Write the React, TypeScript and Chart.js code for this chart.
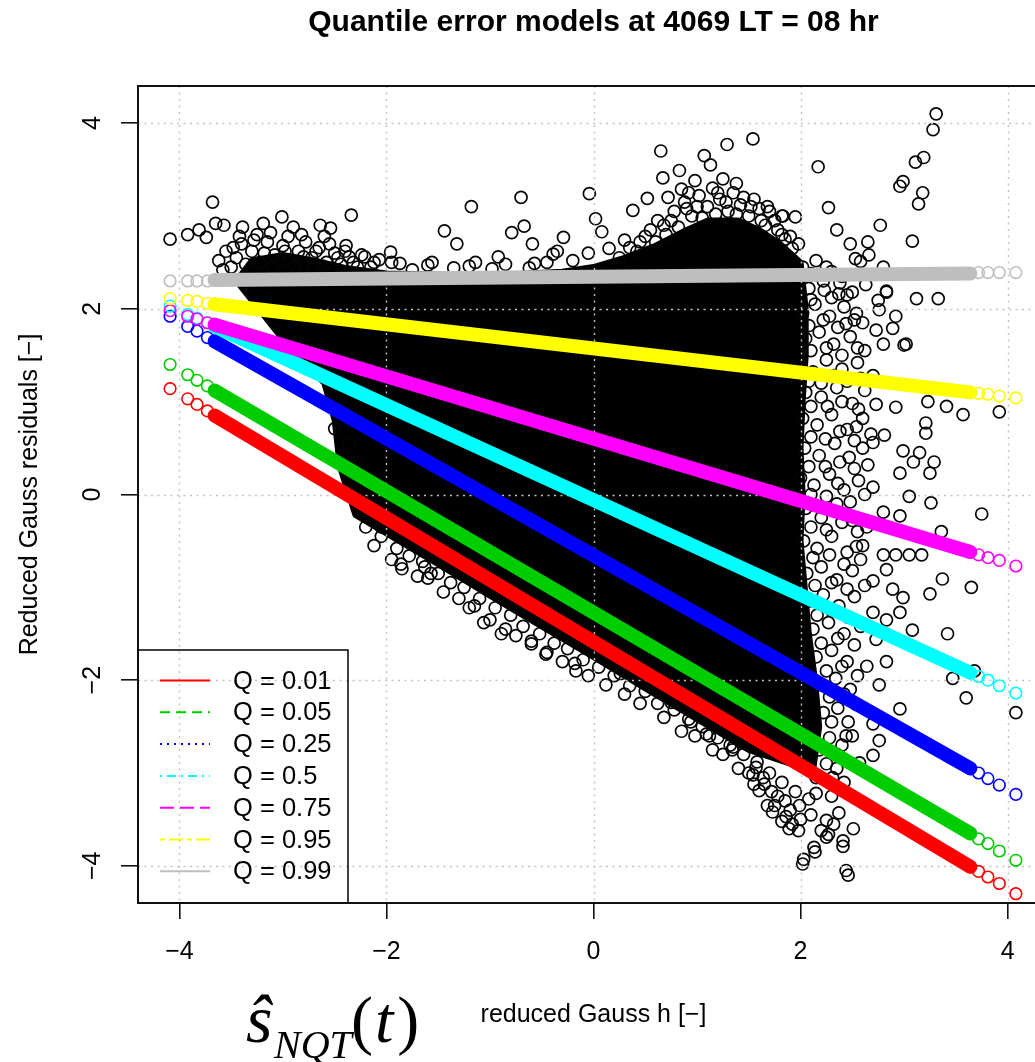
import React, { useEffect, useRef } from 'react';
import { Chart, registerables } from 'chart.js';

Chart.register(...registerables);

// ---------------- data ----------------
const xTicks = [-4, -2, 0, 2, 4];
const yTicks = [-4, -2, 0, 2, 4];
const titleText = 'Quantile error models at 4069 LT = 08 hr';
const xTitle = 'reduced Gauss h [\u2212]';
const yTitle = 'Reduced Gauss residuals [\u2212]';

const quantileLabels = ['Q = 0.01', 'Q = 0.05', 'Q = 0.25', 'Q = 0.5', 'Q = 0.75', 'Q = 0.95', 'Q = 0.99'];
// x positions of the fitted quantile points (sparse tails; the middle is a dense band)
const quantileX = [-4.09, -3.92, -3.83, -3.73, -3.66, 3.64, 3.72, 3.81, 3.92, 4.08];
const q001 = [1.14, 1.03, 0.97, 0.9, 0.85, -4.01, -4.06, -4.12, -4.19, -4.3];
const q005 = [1.4, 1.29, 1.23, 1.17, 1.12, -3.65, -3.71, -3.76, -3.84, -3.94];
const q025 = [1.92, 1.81, 1.76, 1.69, 1.65, -2.95, -3.0, -3.06, -3.13, -3.23];
const q050 = [2.03, 1.94, 1.9, 1.85, 1.81, -1.92, -1.96, -2.0, -2.06, -2.14];
const q075 = [1.98, 1.92, 1.89, 1.85, 1.83, -0.62, -0.65, -0.68, -0.71, -0.77];
const q095 = [2.11, 2.09, 2.08, 2.06, 2.05, 1.1, 1.09, 1.08, 1.06, 1.04];
const q099 = [2.3, 2.3, 2.3, 2.3, 2.31, 2.38, 2.39, 2.39, 2.39, 2.39];
const quantileValues = [q001, q005, q025, q050, q075, q095, q099];

// outline of the saturated (solid black) part of the residual cloud
const cloudOutline: [number, number][] = [
  [-3.45, 2.3], [-3.3, 2.52], [-3.0, 2.58], [-2.7, 2.52], [-2.4, 2.44], [-2.0, 2.38], [-1.0, 2.36],
  [-0.3, 2.4], [0.0, 2.45], [0.3, 2.55], [0.6, 2.68], [0.9, 2.85], [1.1, 2.95], [1.4, 2.95],
  [1.6, 2.85], [1.8, 2.7], [2.0, 2.5], [2.05, 2.0], [2.05, 1.5], [2.02, 1.0], [2.0, 0.5],
  [2.02, 0.0], [2.0, -0.5], [2.04, -1.0], [2.08, -1.5], [2.14, -2.0], [2.18, -2.5], [2.12, -2.98],
  [1.5, -2.75], [1.0, -2.42], [0.5, -2.09], [0.0, -1.75], [-0.5, -1.42], [-1.0, -1.09],
  [-1.5, -0.75], [-2.0, -0.42], [-2.3, -0.22], [-2.45, 0.3], [-2.5, 0.8], [-2.6, 1.2],
  [-2.95, 1.6], [-3.2, 1.95], [-3.45, 2.3],
];

// individually visible residual points (reduced Gauss h, residual)
const cloudPoints: [number, number][] = [
  // upper left / upper middle
  [-4.09, 2.75], [-3.68, 3.15], [-3.92, 2.8], [-3.81, 2.85], [-3.74, 2.77], [-3.65, 2.92], [-3.57, 2.9],
  [-3.39, 2.88], [-3.19, 2.92], [-3.01, 2.99], [-2.9, 2.88], [-2.64, 2.9], [-2.54, 2.87], [-2.34, 3.01],
  [-2.39, 2.68], [-2.21, 2.56], [-2.07, 2.53], [-1.96, 2.61], [-1.87, 2.49], [-1.44, 2.84], [-1.32, 2.7],
  [-1.56, 2.5], [-1.18, 3.1], [-1.14, 2.5], [-0.92, 2.56], [-0.79, 2.82], [-0.67, 2.89], [-0.7, 3.2],
  [-0.59, 2.7], [-0.57, 2.49], [-0.39, 2.59], [-0.29, 2.77], [-0.04, 3.24], [0.02, 2.97], [0.08, 2.83],
  [0.3, 2.74], [0.38, 3.06], [0.52, 3.19], [0.65, 3.7], [0.67, 3.41], [0.83, 3.49], [0.85, 3.29],
  [1.07, 3.65], [1.13, 3.55], [1.29, 3.77], [1.54, 3.83], [1.68, 3.1], [1.38, 3.35], [1.82, 3.0],
  [1.95, 2.99], [2.17, 3.53], [1.83, 3.0],
  [-3.55, 2.62], [-3.45, 2.55], [-3.4, 2.7], [-3.3, 2.62], [-3.22, 2.5], [-3.15, 2.72], [-3.08, 2.58],
  [-3.0, 2.68], [-2.93, 2.5], [-2.85, 2.62], [-2.78, 2.72], [-2.72, 2.55], [-2.65, 2.66], [-2.58, 2.5],
  [-2.5, 2.6], [-2.44, 2.48], [-2.36, 2.56], [-2.28, 2.45], [-3.5, 2.45], [-3.1, 2.45], [-2.7, 2.43],
  [-3.62, 2.52], [-2.95, 2.78], [-3.25, 2.8], [-2.6, 2.78],
  [-3.58, 2.42], [-3.48, 2.66], [-3.36, 2.48], [-3.28, 2.74], [-3.18, 2.6], [-3.04, 2.5], [-2.98, 2.62],
  [-2.88, 2.46], [-2.8, 2.56], [-2.68, 2.62], [-2.62, 2.46], [-2.55, 2.7], [-2.47, 2.55], [-2.4, 2.62],
  [-2.32, 2.5], [-2.24, 2.58], [-2.12, 2.5], [-3.42, 2.78], [-3.12, 2.82], [-2.82, 2.8],
  [-2.15, 2.45], [-1.95, 2.5], [-1.75, 2.42], [-1.6, 2.47], [-1.35, 2.44], [-1.2, 2.46], [-0.98, 2.43],
  [-0.85, 2.48], [-0.62, 2.44], [-0.45, 2.5], [-0.2, 2.52], [-0.05, 2.6], [0.15, 2.65], [0.25, 2.55],
  [-0.35, 2.62],
  [0.45, 2.72], [0.55, 2.85], [0.62, 2.95], [0.7, 2.8], [0.78, 3.05], [0.88, 3.15], [0.95, 3.0],
  [1.02, 3.22], [1.1, 3.1], [1.15, 3.3], [1.22, 3.18], [1.3, 3.05], [1.35, 3.25], [1.42, 3.12],
  [1.5, 3.0], [1.55, 3.18], [1.62, 2.95], [1.7, 3.05], [1.78, 2.85], [1.85, 2.75], [1.92, 2.65],
  [0.98, 3.38], [1.25, 3.4], [0.72, 3.2],
  [0.42, 2.62], [0.5, 2.78], [0.6, 2.72], [0.68, 2.9], [0.75, 2.95], [0.82, 2.88], [0.9, 3.08],
  [1.0, 3.1], [1.05, 2.98], [1.18, 3.02], [1.28, 3.15], [1.38, 3.02], [1.45, 3.2], [1.52, 3.1],
  [1.6, 3.08], [1.66, 2.9], [1.75, 2.95], [1.82, 2.8], [1.9, 2.78], [1.98, 2.7], [0.35, 2.66],
  [1.2, 3.25], [0.92, 3.25],
  // upper right
  [3.31, 4.1], [3.28, 3.93], [3.11, 3.58], [3.19, 3.63], [2.96, 3.32], [2.99, 3.37], [3.18, 3.25],
  [3.14, 3.13], [2.27, 3.09], [2.35, 2.85], [2.48, 2.7], [2.65, 2.72], [2.77, 2.9], [3.08, 2.73],
  [2.53, 2.54], [2.58, 2.51], [2.66, 2.58], [2.8, 2.45], [2.63, 2.26], [3.12, 2.11], [3.33, 2.11],
  [2.37, 2.16], [2.23, 2.2], [2.83, 2.19], [2.75, 2.09], [2.92, 1.92], [2.76, 1.99], [2.54, 1.95],
  [2.44, 1.84], [2.89, 1.79], [3.0, 1.61], [2.73, 1.77], [2.83, 2.18], [3.02, 1.62],
  // right side
  [3.23, 1.0], [3.41, 0.95], [3.57, 0.86], [3.92, 0.89], [3.21, 0.77], [3.21, 0.66], [3.29, 0.35],
  [3.25, 0.23], [3.26, -0.09], [3.75, -0.21], [3.36, -0.4], [2.8, -0.65], [2.92, -0.65], [3.05, -0.65],
  [3.17, -0.65], [3.37, -0.91], [3.65, -1.0], [3.25, -1.07], [3.42, -1.5], [3.68, -1.9], [3.47, -1.98],
  [3.6, -2.19], [4.08, -2.35], [2.99, -1.11], [3.08, -1.46], [2.96, -2.31], [2.76, -2.65], [2.7, -2.81],
  [2.73, 0.97], [2.92, 0.94], [2.54, 0.73], [2.81, 0.64], [2.7, 0.56], [2.99, 0.47], [3.15, 0.45],
  [3.09, 0.35], [2.96, 0.23], [3.05, -0.02], [2.96, -0.23], [2.8, -0.19], [2.64, -0.35], [2.54, -0.56],
  [2.83, -0.81], [2.7, -0.93], [2.89, -1.02], [2.96, -1.27], [2.83, -1.35], [2.7, -1.27], [2.73, -1.56],
  [2.83, -1.8], [2.64, -1.85], [2.76, -2.05], [2.54, -2.26], [2.7, -2.47], [2.44, -2.6], [2.57, -2.89],
  [2.31, -3.05], [2.15, -3.22], [1.99, -3.35], [1.86, -3.47], [2.37, -3.43], [2.25, -3.51],
  [2.02, 2.45], [2.15, 2.52], [2.3, 2.4], [2.08, 2.22], [2.22, 2.3], [2.38, 2.28], [2.5, 2.18],
  [2.02, 1.95], [2.14, 2.05], [2.28, 1.92], [2.42, 2.02], [2.6, 1.85], [2.05, 1.68], [2.18, 1.75],
  [2.32, 1.62], [2.48, 1.7], [2.62, 1.55], [2.8, 1.62], [2.0, 1.4], [2.12, 1.32], [2.25, 1.45],
  [2.4, 1.35], [2.55, 1.42], [2.7, 1.28], [2.05, 1.1], [2.2, 1.05], [2.35, 1.15], [2.5, 0.98],
  [2.62, 1.12], [2.02, 0.82], [2.16, 0.75], [2.3, 0.86], [2.45, 0.7], [2.6, 0.82], [2.04, 0.5],
  [2.18, 0.42], [2.33, 0.55], [2.47, 0.4], [2.6, 0.5], [2.0, 0.18], [2.13, 0.1], [2.28, 0.22],
  [2.42, 0.05], [2.56, 0.15], [2.7, 0.08], [2.05, -0.15], [2.2, -0.25], [2.35, -0.1], [2.5, -0.28],
  [2.03, -0.5], [2.16, -0.58], [2.3, -0.45], [2.45, -0.62], [2.6, -0.55], [2.06, -0.85], [2.2, -0.78],
  [2.35, -0.92], [2.5, -0.82], [2.08, -1.15], [2.22, -1.08], [2.37, -1.2], [2.52, -1.1], [2.12, -1.45],
  [2.27, -1.38], [2.42, -1.5], [2.58, -1.42], [2.15, -1.75], [2.3, -1.68], [2.45, -1.8], [2.2, -2.05],
  [2.34, -1.98], [2.48, -2.1], [2.22, -2.35], [2.36, -2.3], [2.28, -2.62], [2.4, -2.7], [2.25, -2.9],
  [2.35, -2.95],
  [2.1, 2.38], [2.25, 2.45], [2.4, 2.35], [2.1, 2.1], [2.3, 2.12], [2.45, 2.15], [2.08, 1.82],
  [2.22, 1.88], [2.36, 1.8], [2.52, 1.88], [2.1, 1.55], [2.25, 1.58], [2.4, 1.5], [2.55, 1.58],
  [2.08, 1.22], [2.2, 1.2], [2.32, 1.28], [2.45, 1.22], [2.58, 1.25], [2.1, 0.95], [2.26, 0.95],
  [2.4, 1.0], [2.56, 0.92], [2.1, 0.62], [2.24, 0.6], [2.38, 0.68], [2.52, 0.58], [2.68, 0.65],
  [2.08, 0.3], [2.24, 0.3], [2.38, 0.35], [2.52, 0.28], [2.65, 0.32], [2.1, 0.0], [2.25, -0.02],
  [2.36, 0.12], [2.48, -0.08], [2.62, 0.0], [2.1, -0.35], [2.25, -0.38], [2.4, -0.3], [2.55, -0.4],
  [2.12, -0.68], [2.28, -0.65], [2.42, -0.75], [2.58, -0.7], [2.14, -0.98], [2.3, -0.95], [2.45, -1.02],
  [2.62, -0.98], [2.16, -1.3], [2.3, -1.25], [2.46, -1.32], [2.2, -1.6], [2.36, -1.55], [2.52, -1.62],
  [2.25, -1.9], [2.4, -1.85], [2.55, -1.95], [2.28, -2.18], [2.42, -2.15], [2.3, -2.45], [2.46, -2.45],
  [2.35, -2.8], [2.5, -2.6], [2.18, -2.75], [2.15, -3.05], [2.42, -3.1], [2.3, -3.25],
  // lower edge
  [-2.5, 0.71], [-2.36, 0.55], [-2.29, 0.35], [-2.05, -0.35], [-1.86, -0.75], [-1.63, -0.78],
  [-1.57, -0.85], [-1.15, -1.2], [-1.06, -1.38], [-0.89, -1.5], [-0.6, -1.61], [-0.46, -1.72],
  [-0.17, -1.9], [-0.18, -1.82], [0.26, -1.93], [0.61, -2.11], [0.75, -2.24], [0.94, -2.45],
  [1.09, -2.58], [1.35, -2.72], [1.57, -2.94], [1.75, -3.35], [1.92, -3.55], [2.03, -3.93],
  [2.13, -3.8], [2.27, -3.66], [2.41, -3.73], [2.44, -4.05], [1.64, -3.05], [1.12, -2.6], [1.34, -2.75],
  [1.54, -3.02], [1.6, -3.19], [2.51, -3.6], [2.46, -4.1], [2.41, -3.79], [2.14, -3.85], [2.02, -3.98],
  [2.25, -3.69], [1.89, -3.6], [1.73, -3.42],
  [-2.2, -0.35], [-2.05, -0.45], [-1.9, -0.58], [-1.78, -0.66], [-1.65, -0.72], [-1.5, -0.85],
  [-1.38, -0.95], [-1.25, -1.0], [-1.1, -1.12], [-0.95, -1.22], [-0.8, -1.3], [-0.68, -1.42],
  [-0.52, -1.5], [-0.38, -1.6], [-0.25, -1.66], [-0.1, -1.78], [0.05, -1.86], [0.2, -1.95],
  [0.35, -2.06], [0.5, -2.12], [0.62, -2.25], [0.78, -2.32], [0.92, -2.42], [1.05, -2.5], [1.2, -2.62],
  [1.32, -2.7], [1.45, -2.8], [1.58, -2.88], [1.7, -3.0], [1.82, -3.1], [1.95, -3.2], [2.08, -3.28],
  [-1.95, -0.7], [-1.6, -0.9], [-1.3, -1.12], [-0.85, -1.45], [-0.45, -1.7], [0.3, -2.15],
  [0.85, -2.55], [1.25, -2.8], [1.5, -3.0], [1.65, -3.12], [1.78, -3.25], [1.9, -3.4], [2.0, -3.5],
  [-2.12, -0.55], [-1.85, -0.8], [-1.7, -0.88], [-1.45, -1.05], [-1.2, -1.22], [-1.0, -1.35],
  [-0.75, -1.52], [-0.6, -1.58], [-0.3, -1.8], [-0.05, -1.95], [0.12, -2.05], [0.45, -2.25],
  [0.68, -2.4], [0.98, -2.6], [1.15, -2.75], [1.4, -2.95], [1.55, -3.12], [1.72, -3.2], [1.85, -3.3],
  [1.98, -3.62], [2.1, -3.45], [2.2, -3.62], [2.32, -3.55], [1.82, -3.52], [1.68, -3.35],
];

// ---------------- styles ----------------
const quantileColors = ['#FF0000', '#00CD00', '#0000FF', '#00FFFF', '#FF00FF', '#FFFF00', '#BEBEBE'];
const legendDash: number[][] = [[], [10, 6], [2, 5], [2, 5, 9, 5], [14, 6], [5, 4, 14, 4], []];
const SANS = '"Liberation Sans", Arial, Helvetica, sans-serif';
const SERIF = '"Liberation Serif", "Times New Roman", serif';
const CANVAS_W = 1100;
const CANVAS_H = 1062;

const fmt = (v: number) => (v < 0 ? '\u2212' + Math.abs(v) : String(v));

const decorPlugin = {
  id: 'decor',
  afterDatasetDraw(chart: any, args: any) {
    if (args.index !== 1) return;
    const { ctx, chartArea: a, scales } = chart;
    ctx.save();
    ctx.strokeStyle = '#C4C4C4';
    ctx.lineWidth = 1.4;
    ctx.setLineDash([2, 4.5]);
    xTicks.forEach((v) => {
      const p = Math.round(scales.x.getPixelForValue(v)) + 0.5;
      ctx.beginPath();
      ctx.moveTo(p, a.top);
      ctx.lineTo(p, a.bottom);
      ctx.stroke();
    });
    yTicks.forEach((v) => {
      const p = Math.round(scales.y.getPixelForValue(v)) + 0.5;
      ctx.beginPath();
      ctx.moveTo(a.left, p);
      ctx.lineTo(a.right, p);
      ctx.stroke();
    });
    ctx.restore();
  },
  afterDatasetsDraw(chart: any) {
    const { ctx, chartArea: a } = chart;
    ctx.save();
    ctx.strokeStyle = '#111';
    ctx.lineWidth = 2;
    ctx.strokeRect(a.left, a.top, a.right - a.left, a.bottom - a.top);
    ctx.restore();
  },
  afterDraw(chart: any) {
    const { ctx, chartArea: a } = chart;
    const cx = (a.left + a.right) / 2;
    const cy = (a.top + a.bottom) / 2;
    ctx.save();
    ctx.fillStyle = '#000';
    // title
    ctx.font = 'bold 30px ' + SANS;
    ctx.textAlign = 'center';
    ctx.textBaseline = 'middle';
    ctx.fillText(titleText, cx, 23);
    // x title
    ctx.font = '25px ' + SANS;
    ctx.fillText(xTitle, cx, 1015);
    // y title
    ctx.save();
    ctx.translate(30, cy);
    ctx.rotate(-Math.PI / 2);
    ctx.fillText(yTitle, 0, 0);
    ctx.restore();

    // legend
    const lx = a.left;
    const ly = 650;
    ctx.strokeStyle = '#111';
    ctx.lineWidth = 1.6;
    ctx.strokeRect(lx, ly, 210, a.bottom - ly);
    ctx.textAlign = 'left';
    ctx.font = '25.5px ' + SANS;
    quantileLabels.forEach((lab, i) => {
      const y = 680.5 + i * 31.8;
      ctx.save();
      ctx.strokeStyle = quantileColors[i];
      ctx.lineWidth = 2;
      ctx.setLineDash(legendDash[i]);
      ctx.beginPath();
      ctx.moveTo(lx + 22, y);
      ctx.lineTo(lx + 72, y);
      ctx.stroke();
      ctx.restore();
      ctx.fillStyle = '#000';
      ctx.fillText(lab, lx + 95, y + 1);
    });

    // formula  s^_NQT(t)
    ctx.textBaseline = 'alphabetic';
    ctx.textAlign = 'left';
    ctx.font = 'italic 68px ' + SERIF;
    ctx.fillText('\u015D', 246, 1042);
    ctx.font = 'italic 40px ' + SERIF;
    ctx.fillText('NQT', 274, 1058);
    ctx.font = '66px ' + SERIF;
    ctx.fillText('(', 351, 1042);
    const wp = ctx.measureText('(').width;
    ctx.font = 'italic 66px ' + SERIF;
    ctx.fillText('t', 351 + wp + 2, 1042);
    const wt = ctx.measureText('t').width;
    ctx.font = '66px ' + SERIF;
    ctx.fillText(')', 351 + wp + wt + 6, 1042);
    ctx.restore();
  },
};

export default function App() {
  const canvasRef = useRef<HTMLCanvasElement | null>(null);

  useEffect(() => {
    const canvas = canvasRef.current;
    if (!canvas) return;

    const datasets: any[] = [];
    datasets.push({
      type: 'line',
      label: 'cloud',
      data: cloudOutline.map(([x, y]) => ({ x, y })),
      fill: 'shape',
      backgroundColor: '#000',
      borderColor: '#000',
      borderWidth: 6,
      borderJoinStyle: 'round',
      pointRadius: 0,
      tension: 0,
      order: 101,
    });
    datasets.push({
      type: 'scatter',
      label: 'residuals',
      data: cloudPoints.map(([x, y]) => ({ x, y })),
      pointRadius: 6,
      pointBorderWidth: 1.7,
      pointBorderColor: '#050505',
      pointBackgroundColor: 'rgba(0,0,0,0)',
      showLine: false,
      order: 100,
    });
    quantileValues.forEach((vals, i) => {
      const color = quantileColors[i];
      datasets.push({
        type: 'line',
        label: quantileLabels[i],
        data: quantileX.map((x, j) => ({ x, y: vals[j] })),
        borderColor: color,
        borderWidth: 14,
        borderCapStyle: 'round',
        borderJoinStyle: 'round',
        segment: {
          borderColor: (c: any) => (c.p0DataIndex === 4 ? color : 'rgba(0,0,0,0)'),
        },
        pointRadius: 5.8,
        pointBorderWidth: 1.6,
        pointBorderColor: color,
        pointBackgroundColor: 'rgba(0,0,0,0)',
        fill: false,
        tension: 0,
        order: 7 - i,
      });
    });

    const chart = new Chart(canvas, {
      type: 'scatter',
      data: { datasets },
      options: {
        responsive: false,
        devicePixelRatio: 1,
        animation: false,
        events: [],
        layout: { padding: { top: 86, right: CANVAS_W - 1049, bottom: 0, left: 0 } },
        plugins: {
          legend: { display: false },
          tooltip: { enabled: false },
          title: { display: false },
        },
        scales: {
          x: {
            type: 'linear',
            position: 'bottom',
            min: -4.4,
            max: 4.4,
            afterBuildTicks: (s: any) => {
              s.ticks = xTicks.map((v) => ({ value: v }));
            },
            afterFit: (s: any) => {
              s.height = CANVAS_H - 903;
            },
            border: { display: false },
            grid: {
              drawOnChartArea: false,
              drawTicks: true,
              tickLength: 16,
              tickWidth: 1.6,
              tickColor: '#111',
              lineWidth: 1.6,
              color: '#111',
            },
            ticks: {
              font: { size: 25, family: SANS },
              color: '#000',
              padding: 18,
              maxRotation: 0,
              callback: (v: any) => fmt(Number(v)),
            },
          },
          y: {
            type: 'linear',
            position: 'left',
            min: -4.4,
            max: 4.4,
            afterBuildTicks: (s: any) => {
              s.ticks = yTicks.map((v) => ({ value: v }));
            },
            afterFit: (s: any) => {
              s.width = 138;
            },
            border: { display: false },
            grid: {
              drawOnChartArea: false,
              drawTicks: true,
              tickLength: 17,
              tickWidth: 1.6,
              tickColor: '#111',
              lineWidth: 1.6,
              color: '#111',
            },
            ticks: {
              font: { size: 25, family: SANS },
              color: '#000',
              padding: 14,
              minRotation: 90,
              maxRotation: 90,
              crossAlign: 'center',
              callback: (v: any) => fmt(Number(v)),
            },
          },
        },
      },
      plugins: [decorPlugin],
    } as any);

    return () => chart.destroy();
  }, []);

  return (
    <div
      style={{
        position: 'fixed',
        left: 0,
        top: 0,
        width: 1035,
        height: 1062,
        overflow: 'hidden',
        background: '#fff',
      }}
    >
      <canvas
        ref={canvasRef}
        width={CANVAS_W}
        height={CANVAS_H}
        style={{ display: 'block', width: CANVAS_W, height: CANVAS_H }}
      />
    </div>
  );
}
